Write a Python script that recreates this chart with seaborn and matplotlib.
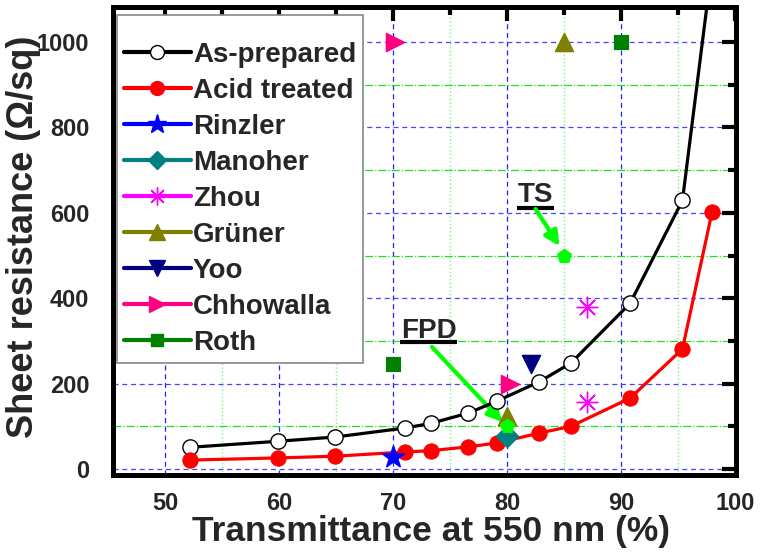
import seaborn as sns
import numpy as np
import pandas as pd
import matplotlib.pyplot as plt
from matplotlib.lines import Line2D
from matplotlib.ticker import MultipleLocator

# curves
asprep_x = [52.2, 59.9, 64.9, 71.05, 73.3, 76.6, 79.1, 82.8, 85.6, 90.8, 95.4, 98.0]
asprep_y = [51, 65, 75, 96, 107, 131, 159, 204, 248, 388, 629, 1180]
acid_x = [52.2, 59.9, 64.9, 71.05, 73.3, 76.6, 79.1, 82.8, 85.6, 90.8, 95.4, 98.0]
acid_y = [21, 26, 30, 40, 43, 52, 61, 84, 100, 166, 281, 602]

# literature points
rinzler_x, rinzler_y = [70.0], [28]
manoher_x, manoher_y = [80.0], [77]
zhou_x, zhou_y = [87.0, 87.0], [379, 157]
gruner_x, gruner_y = [80.0, 85.0], [124, 1000]
yoo_x, yoo_y = [82.1], [246]
chhow_x, chhow_y = [80.3, 70.2], [199, 1000]
roth_x, roth_y = [70.0, 90.0], [246, 1000]
# application targets
ts_x, ts_y = [85.0], [500]
fpd_x, fpd_y = [80.0], [100]

xticks = [50, 60, 70, 80, 90, 100]
yticks = [0, 200, 400, 600, 800, 1000]

sns.set_style('white')
plt.rcParams['font.family'] = ['Liberation Sans', 'DejaVu Sans']
plt.rcParams['font.weight'] = 'bold'

fig, ax = plt.subplots(figsize=(7.6, 5.57), dpi=100)
fig.subplots_adjust(left=0.1487, right=0.9684, top=0.9874, bottom=0.1472)

sns.lineplot(x=asprep_x, y=asprep_y, sort=False, estimator=None, ax=ax, color='black', lw=2.3,
             marker='o', markersize=11, markerfacecolor='white', markeredgecolor='black',
             markeredgewidth=1, zorder=4)
sns.lineplot(x=acid_x, y=acid_y, sort=False, estimator=None, ax=ax, color='#FF0000', lw=2.3,
             marker='o', markersize=11, markerfacecolor='#FF0000', markeredgecolor='#FF0000', zorder=4)

pts = [
    (rinzler_x, rinzler_y, '*', '#0000FF', 260),
    (manoher_x, manoher_y, 'D', '#008080', 130),
    (gruner_x, gruner_y, '^', '#808000', 170),
    (yoo_x, yoo_y, 'v', '#000080', 170),
    (chhow_x, chhow_y, '>', '#FF0080', 170),
    (roth_x, roth_y, 's', '#008000', 110),
]
for xs, ys, m, c, s in pts:
    sns.scatterplot(x=xs, y=ys, marker=m, color=c, edgecolor=c, s=s, ax=ax, zorder=5)
sns.scatterplot(x=zhou_x, y=zhou_y, marker=(8, 2, 0), color='#FF00FF', s=220, linewidth=1, ax=ax, zorder=5)
sns.scatterplot(x=ts_x, y=ts_y, marker='p', color='#00FF00', edgecolor='#00FF00', s=110, ax=ax, zorder=6)
sns.scatterplot(x=fpd_x, y=fpd_y, marker='p', color='#00FF00', edgecolor='#00FF00', s=110, ax=ax, zorder=6)

# annotations
ax.text(82.5, 625, 'TS', fontsize=20, fontweight='bold', ha='center', va='baseline')
ax.plot([80.9, 84.1], [611, 611], color='black', lw=3, solid_capstyle='butt')
ax.annotate('', xy=(84.6, 522), xytext=(82.5, 609),
            arrowprops=dict(arrowstyle='-|>', color='#00FF00', lw=3, mutation_scale=22, shrinkA=0, shrinkB=0))
ax.text(73.1, 307, 'FPD', fontsize=20, fontweight='bold', ha='center', va='baseline')
ax.plot([70.6, 75.6], [297, 297], color='black', lw=3, solid_capstyle='butt')
ax.annotate('', xy=(79.6, 110), xytext=(73.4, 286),
            arrowprops=dict(arrowstyle='-|>', color='#00FF00', lw=3, mutation_scale=22, shrinkA=0, shrinkB=0))

ax.set_xlim(45.4, 100.1)
ax.set_ylim(-14, 1082)
ax.set_xticks(xticks)
ax.set_yticks(yticks)
ax.xaxis.set_minor_locator(MultipleLocator(5))
ax.yaxis.set_minor_locator(MultipleLocator(100))
ax.tick_params(which='both', direction='in', top=True, right=True, width=3, color='black')
ax.tick_params(which='major', length=10)
ax.tick_params(which='minor', length=6)
ax.tick_params(axis='x', which='major', labelsize=17, pad=12)
ax.tick_params(axis='y', which='major', labelsize=17, pad=17)
for lab in ax.get_xticklabels() + ax.get_yticklabels():
    lab.set_fontweight('bold')

ax.set_axisbelow(True)
ax.xaxis.grid(True, which='major', color='#2222FF', ls=(0, (4, 3)), lw=0.9)
ax.yaxis.grid(True, which='major', color='#4444FF', ls=(0, (4, 3)), lw=0.9)
ax.xaxis.grid(True, which='minor', color='#88EE88', ls=':', lw=1.0)
ax.yaxis.grid(True, which='minor', color='#22DD22', ls='-.', lw=0.9)

for sp in ax.spines.values():
    sp.set_linewidth(3.6)
    sp.set_color('black')

ax.set_xlabel('Transmittance at 550 nm (%)', fontsize=25.5, fontweight='bold')
ax.set_ylabel('Sheet resistance (\u03a9/sq)', fontsize=26, fontweight='bold')
ax.xaxis.set_label_coords(0.511, -0.085)
ax.yaxis.set_label_coords(-0.115, 0.51)

handles = [
    Line2D([], [], color='black', lw=3, marker='o', markersize=10, mfc='white', mec='black', mew=1),
    Line2D([], [], color='#FF0000', lw=3, marker='o', markersize=10, mfc='#FF0000', mec='#FF0000'),
    Line2D([], [], color='#0000FF', lw=3, marker='*', markersize=14, mfc='#0000FF', mec='#0000FF'),
    Line2D([], [], color='#008080', lw=3, marker='D', markersize=9, mfc='#008080', mec='#008080'),
    Line2D([], [], color='#FF00FF', lw=3, marker=(8, 2, 0), markersize=13, mec='#FF00FF', mew=1),
    Line2D([], [], color='#808000', lw=3, marker='^', markersize=11, mfc='#808000', mec='#808000'),
    Line2D([], [], color='#000080', lw=3, marker='v', markersize=11, mfc='#000080', mec='#000080'),
    Line2D([], [], color='#FF0080', lw=3, marker='>', markersize=11, mfc='#FF0080', mec='#FF0080'),
    Line2D([], [], color='#008000', lw=3, marker='s', markersize=9, mfc='#008000', mec='#008000'),
]
labels = ['As-prepared', 'Acid treated', 'Rinzler', 'Manoher', 'Zhou', 'Gr\u00fcner', 'Yoo', 'Chhowalla', 'Roth']
leg = ax.legend(handles, labels, loc='upper left', bbox_to_anchor=(0.006, 0.983),
                frameon=True, fancybox=False, edgecolor='#888888', framealpha=1, numpoints=1,
                handlelength=2.4, handletextpad=0.08, labelspacing=0.36, borderpad=0.26,
                borderaxespad=0, prop={'weight': 'bold', 'size': 20},
                title=' ', title_fontsize=7)
leg.get_frame().set_linewidth(1.2)
leg.set_zorder(10)

fig.savefig('out.png', dpi=100)
